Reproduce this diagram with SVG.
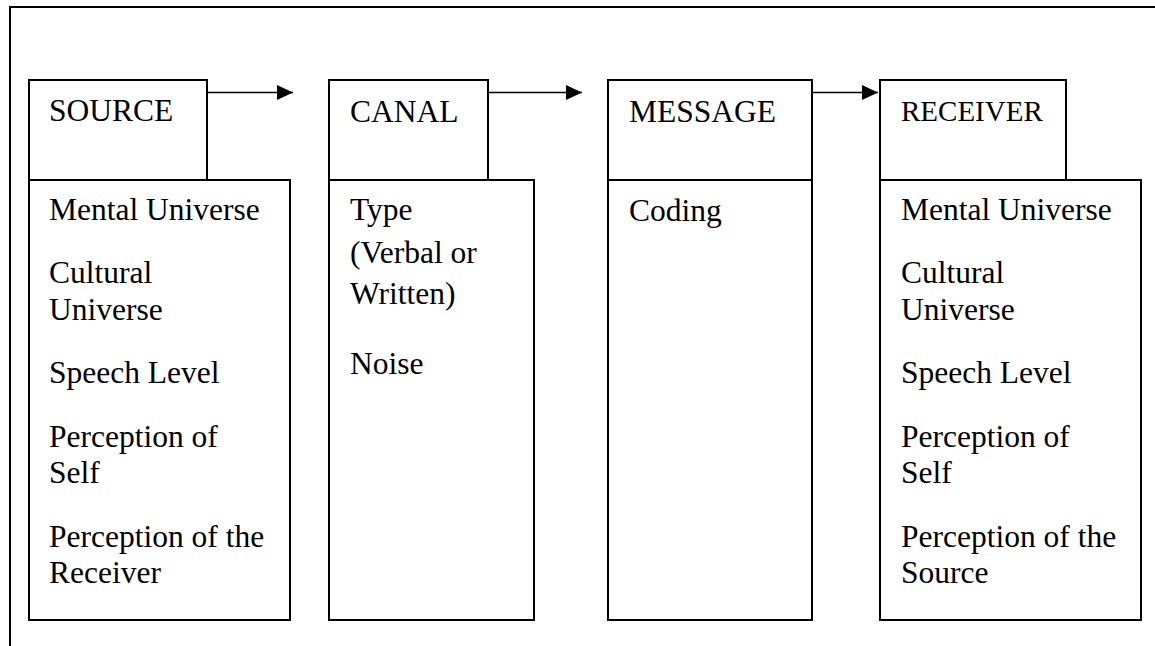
<svg xmlns="http://www.w3.org/2000/svg" width="1155" height="646" viewBox="0 0 1155 646">
  <style>
    .box { fill: #ffffff; stroke: #000000; stroke-width: 2; }
    .frame { fill: none; stroke: #000000; stroke-width: 2; }
    .conn { fill: none; stroke: #000000; stroke-width: 1.5; }
    .t { font-family: "Liberation Serif", "Times New Roman", serif; font-size: 31.5px; fill: #000000; }
    .ts { font-family: "Liberation Serif", "Times New Roman", serif; font-size: 29px; fill: #000000; }
  </style>
  <defs>
    <marker id="arrow" markerUnits="userSpaceOnUse" markerWidth="16" markerHeight="15" refX="16" refY="7.5" orient="auto">
      <path d="M0,0 L16,7.5 L0,15 Z" fill="#000000"/>
    </marker>
  </defs>
  <rect x="0" y="0" width="1155" height="646" fill="#ffffff"/>
  <g id="frame">
    <path class="frame" d="M1155,7 L10,7 L10,646"/>
  </g>
  <g id="source">
    <rect class="box" x="29" y="80" width="178" height="100"/>
    <rect class="box" x="29" y="180" width="261" height="440"/>
    <text class="t" x="49" y="120.5">SOURCE</text>
    <text class="t" x="49" y="220">Mental Universe</text>
    <text class="t" x="49" y="283.3">Cultural</text>
    <text class="t" x="49" y="319.5">Universe</text>
    <text class="t" x="49" y="383">Speech Level</text>
    <text class="t" x="49" y="446.7">Perception of</text>
    <text class="t" x="49" y="483.3">Self</text>
    <text class="t" x="49" y="546.7">Perception of the</text>
    <text class="t" x="49" y="583.3">Receiver</text>
  </g>
  <g id="canal">
    <rect class="box" x="329" y="80" width="159" height="100"/>
    <rect class="box" x="329" y="180" width="205" height="440"/>
    <text class="t" x="350" y="121.5">CANAL</text>
    <text class="t" x="350" y="219.5">Type</text>
    <text class="t" x="350" y="262.5">(Verbal or</text>
    <text class="t" x="350" y="303.5">Written)</text>
    <text class="t" x="350" y="374">Noise</text>
  </g>
  <g id="message">
    <rect class="box" x="608" y="80" width="204" height="100"/>
    <rect class="box" x="608" y="180" width="204" height="440"/>
    <text class="t" x="629" y="121.5">MESSAGE</text>
    <text class="t" x="629" y="221">Coding</text>
  </g>
  <g id="receiver">
    <rect class="box" x="880" y="80" width="186" height="100"/>
    <rect class="box" x="880" y="180" width="261" height="440"/>
    <text class="ts" x="901" y="121">RECEIVER</text>
    <text class="t" x="901" y="220">Mental Universe</text>
    <text class="t" x="901" y="283.3">Cultural</text>
    <text class="t" x="901" y="319.5">Universe</text>
    <text class="t" x="901" y="383">Speech Level</text>
    <text class="t" x="901" y="446.7">Perception of</text>
    <text class="t" x="901" y="483.3">Self</text>
    <text class="t" x="901" y="546.7">Perception of the</text>
    <text class="t" x="901" y="583.3">Source</text>
  </g>
  <g id="connectors">
    <line class="conn" x1="207" y1="92.5" x2="293" y2="92.5" marker-end="url(#arrow)"/>
    <line class="conn" x1="488" y1="92.5" x2="582" y2="92.5" marker-end="url(#arrow)"/>
    <line class="conn" x1="812" y1="92.5" x2="878" y2="92.5" marker-end="url(#arrow)"/>
  </g>
</svg>
